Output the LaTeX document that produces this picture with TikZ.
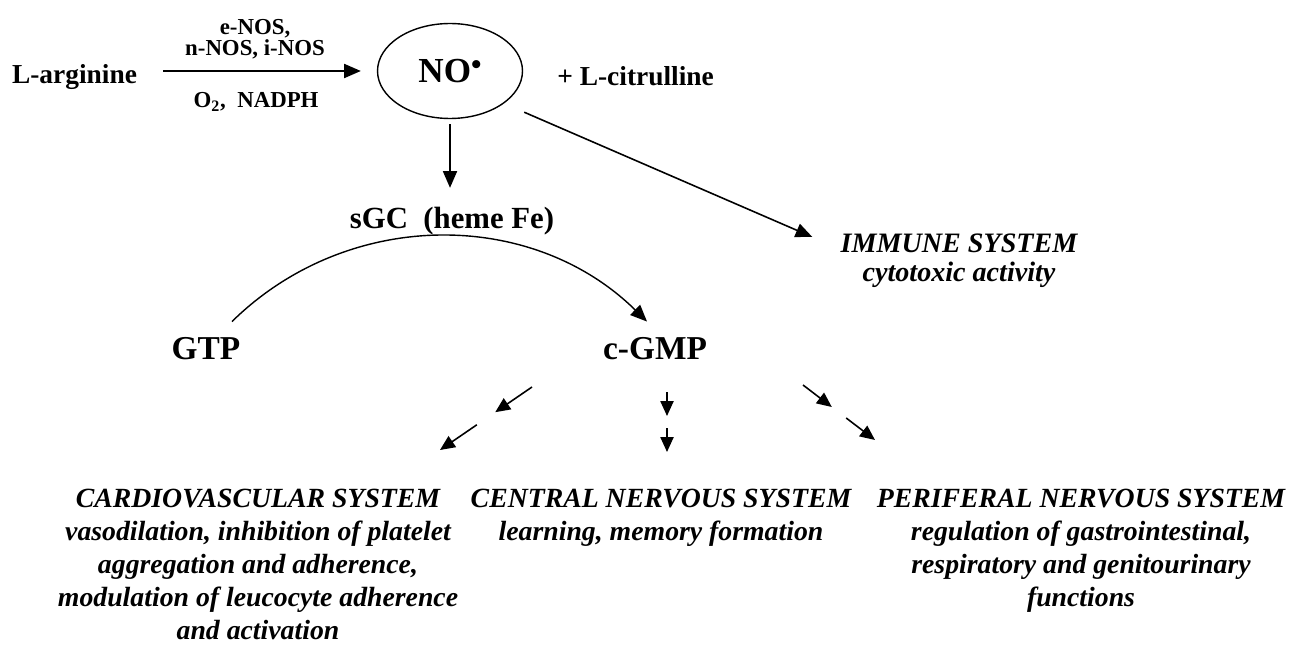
\documentclass[tikz,border=0pt]{standalone}
\usepackage{fontspec}
\setmainfont{Liberation Serif}
\usepackage{tikz}
\usetikzlibrary{shapes.geometric, arrows.meta, calc}

\begin{document}
\begin{tikzpicture}[x=0.02cm, y=-0.02cm,
          chem/.style={inner sep=0pt, font=\fontsize{15.6}{18}\selectfont\bfseries},
          enz/.style={inner sep=0pt, align=center,
                      font=\fontsize{13}{12}\selectfont\bfseries},
          big/.style={inner sep=0pt, font=\fontsize{19}{22}\selectfont\bfseries},
          sys/.style={inner sep=0pt, align=center, anchor=north,
                      font=\fontsize{15.8}{18.7}\selectfont\bfseries\itshape},
          arr/.style={-{Triangle[length=9.5pt, width=8pt]}, line width=0.9pt},
          darr/.style={-{Triangle[length=8.5pt, width=7.5pt]}, line width=0.9pt}
        ]
        \useasboundingbox (0,0) rectangle (1293,645);

        % NO synthesis
        \node[chem, anchor=base] (larg) at (74.5, 84) {L-arginine};
        \node[draw, ellipse, line width=0.8pt, minimum width=2.9cm,
              minimum height=1.9cm, inner sep=0pt,
              font=\fontsize{20}{24}\selectfont\bfseries]
              (no) at (450, 71)
              {NO\raisebox{4.5pt}{\fontsize{17}{17}\selectfont\textbullet}};
        \node[chem, anchor=base west] (cit) at (557, 86) {+ L-citrulline};
        \node[enz] (nos) at (255, 39) {e-NOS,\\n-NOS, i-NOS};
        \node[enz] (cof) at (256, 102) {O\textsubscript{2},\ \ NADPH};
        \draw[arr, line width=1pt, shorten <=0.52cm, shorten >=0.32cm]
              (larg.east |- no) -- (no.west);

        % sGC: GTP -> c-GMP
        \node[chem, anchor=base, font=\fontsize{17.5}{20}\selectfont\bfseries]
              (sgc) at (452, 228) {sGC\ \ (heme Fe)};
        \draw[arr, shorten <=0.1cm, shorten >=0.37cm] (no.south) -- (no.south |- sgc.north);
        \node[big, anchor=base] (gtp)  at (206, 359) {GTP};
        \node[big, anchor=base] (cgmp) at (655, 359) {c-GMP};
        \draw[arr, line width=0.8pt] ([shift={(0.52cm,0.3cm)}]gtp.north) to[bend left=44.5]
              ([shift={(-0.16cm,0.3cm)}]cgmp.north);

        % immune system
        \node[sys, font=\fontsize{16}{16.5}\selectfont\bfseries\itshape]
              (imm) at (959, 234) {IMMUNE SYSTEM\\cytotoxic activity};
        \draw[arr, shorten <=0.44cm] (no.-31) -- ([shift={(-0.56cm,-0.06cm)}]imm.north west);

        % c-GMP targets
        \node[sys] (card) at (258, 489)
              {CARDIOVASCULAR SYSTEM\\vasodilation, inhibition of platelet\\
               aggregation and adherence,\\modulation of leucocyte adherence\\
               and activation};
        \node[sys] (cns) at (661, 489)
              {CENTRAL NERVOUS SYSTEM\\learning, memory formation};
        \node[sys] (pns) at (1081, 489)
              {PERIFERAL NERVOUS SYSTEM\\regulation of gastrointestinal,\\
               respiratory and genitourinary\\functions};

        \coordinate (c1) at (532, 387); \coordinate (c2) at (440, 450);
        \coordinate (n1) at (667, 392); \coordinate (n2) at (667, 452);
        \coordinate (p1) at (803, 385); \coordinate (p2) at (875, 440);
        \foreach \s/\e in {c1/c2, n1/n2, p1/p2} {
          \draw[darr] (\s) -- ($(\s)!0.4!(\e)$);
          \draw[darr] ($(\s)!0.6!(\e)$) -- (\e);
        }
      \end{tikzpicture}
\end{document}
